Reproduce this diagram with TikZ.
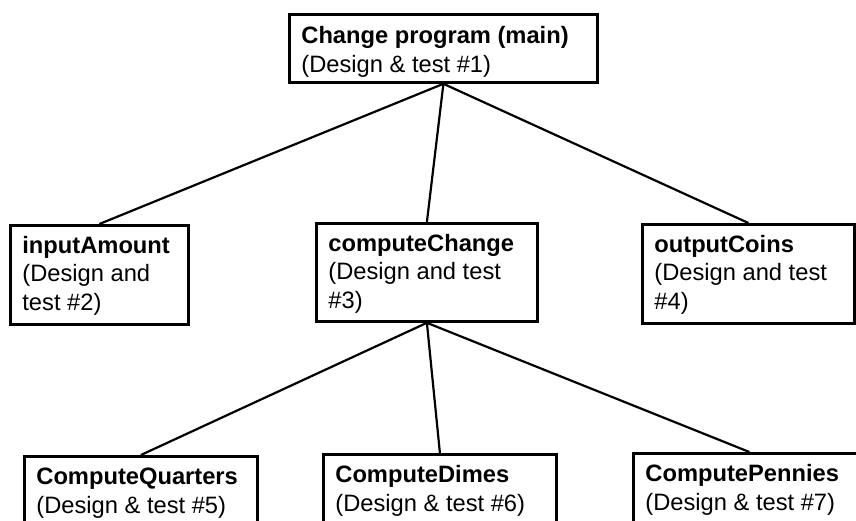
\documentclass[tikz,border=0pt]{standalone}
\usepackage{fontspec}
\setmainfont{Liberation Sans}
\usetikzlibrary{calc}

\tikzset{
	modbox/.style={draw, line width=1.4pt, rectangle, inner sep=0pt, anchor=north west},
	modtext/.style={inner sep=0pt, anchor=base west, align=left, font=\fontsize{11.85pt}{14.25pt}\selectfont},
	link/.style={line width=1.1pt}
}

\begin{document}
\begin{tikzpicture}[x=0.5pt, y=-0.5pt]
				\useasboundingbox (0, 0) rectangle (856, 520);
				\clip (0, 0) rectangle (856, 520);
				
				% Boxes
				% Top
				\node[modbox, minimum width=154pt, minimum height=34pt] (main) at (288, 13) {};
				% Middle row
				\node[modbox, minimum width=89pt, minimum height=49.5pt] (input) at (9, 224) {};
				\node[modbox, minimum width=110.5pt, minimum height=49pt] (change) at (315, 222) {};
				\node[modbox, minimum width=106pt, minimum height=49.5pt] (output) at (641, 223) {};
				% Bottom row
				\node[modbox, minimum width=116.5pt, minimum height=45pt] (quarters) at (23, 455) {};
				\node[modbox, minimum width=116.5pt, minimum height=45pt] (dimes) at (322, 453) {};
				\node[modbox, minimum width=116pt, minimum height=45pt] (pennies) at (632, 452) {};
				
				% Texts (base = baseline of the last line)
				\node[modtext] (mainT) at ([shift={(13, 59)}]main.north west)
					{\textbf{Change program (main)}\\(Design \& test \#1)};
				\node[modtext] (inputT) at ([shift={(13, 86)}]input.north west)
					{\textbf{inputAmount}\\(Design and\\test \#2)};
				\node[modtext] (changeT) at ([shift={(13, 86)}]change.north west)
					{\textbf{computeChange}\\(Design and test\\\#3)};
				\node[modtext] (outputT) at ([shift={(13, 86)}]output.north west)
					{\textbf{outputCoins}\\(Design and test\\\#4)};
				\node[modtext] (quartersT) at ([shift={(13, 58)}]quarters.north west)
					{\textbf{ComputeQuarters}\\(Design \& test \#5)};
				\node[modtext] (dimesT) at ([shift={(13, 58)}]dimes.north west)
					{\textbf{ComputeDimes}\\(Design \& test \#6)};
				\node[modtext] (penniesT) at ([shift={(13, 58)}]pennies.north west)
					{\textbf{ComputePennies}\\(Design \& test \#7)};
				
				% Links
				\draw[link] (main.south) -- (input.north);
				\draw[link] (main.south) -- (change.north);
				\draw[link] (main.south) -- (output.north);
				\draw[link] (change.south) -- (quarters.north);
				\draw[link] (change.south) -- (dimes.north);
				\draw[link] (change.south) -- (pennies.north);
			\end{tikzpicture}
\end{document}
